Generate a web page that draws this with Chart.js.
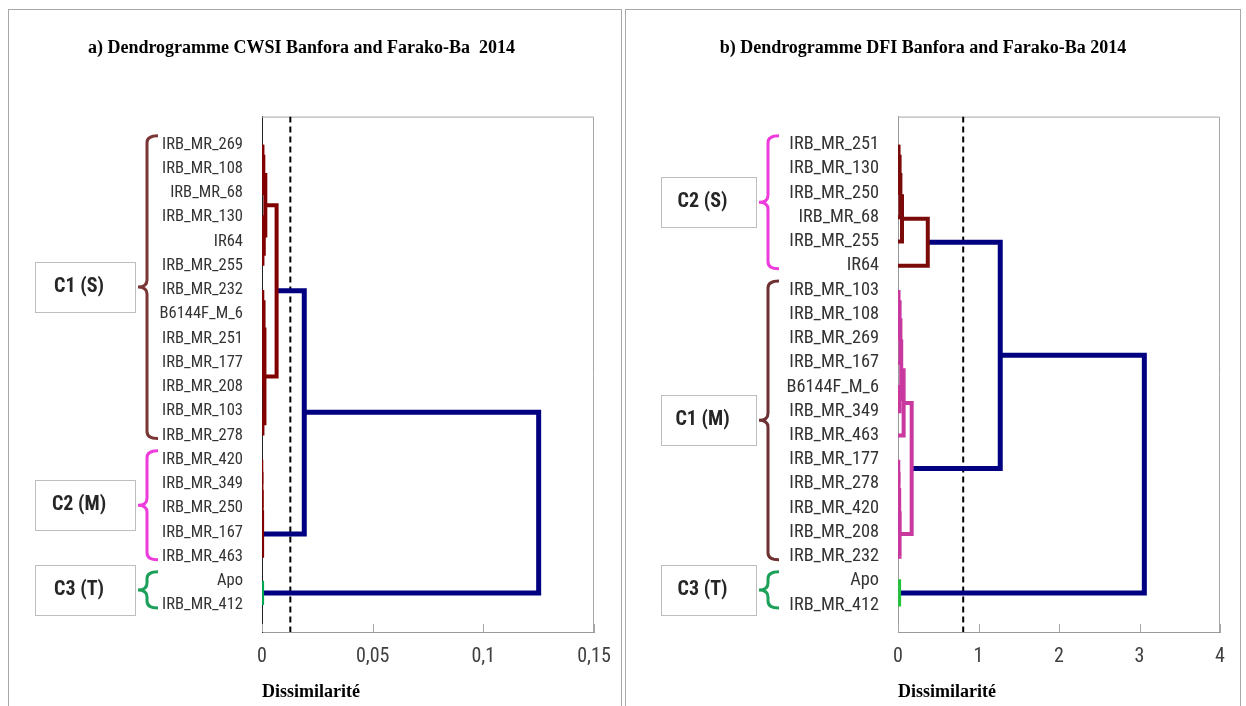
<!DOCTYPE html>
<html>
<head>
<meta charset="utf-8">
<script src="https://cdn.jsdelivr.net/npm/chart.js@4.4.0/dist/chart.umd.min.js"></script>
<style>
  body { margin: 0; background: #fff; width: 1246px; height: 706px; overflow: hidden; position: relative; }
  .panel { position: absolute; top: 9px; height: 697px; border: 1px solid #a8a8a8; border-bottom: none; box-sizing: border-box; }
  #pa { left: 8px; width: 614px; }
  #pb { left: 625px; width: 616px; }
  canvas { position: absolute; left: 0; top: 0; }
</style>
</head>
<body>
<div class="panel" id="pa"><canvas id="ca" width="612" height="696"></canvas></div>
<div class="panel" id="pb"><canvas id="cb" width="614" height="696"></canvas></div>
<script>
// ---- a) CWSI ----
const cwsiLeaves = ["IRB_MR_269", "IRB_MR_108", "IRB_MR_68", "IRB_MR_130", "IR64", "IRB_MR_255",
  "IRB_MR_232", "B6144F_M_6", "IRB_MR_251", "IRB_MR_177", "IRB_MR_208", "IRB_MR_103", "IRB_MR_278",
  "IRB_MR_420", "IRB_MR_349", "IRB_MR_250", "IRB_MR_167", "IRB_MR_463", "Apo", "IRB_MR_412"];
// [child a, child b, height]; ids >= leaves.length are earlier merges (20 = first merge)
const cwsiMerges = [
  [0, 1, 0.0003], [20, 2, 0.0006], [4, 5, 0.0003], [3, 22, 0.0008], [21, 23, 0.0015],
  [6, 7, 0.0002], [9, 10, 0.0002], [8, 26, 0.0004], [25, 27, 0.0007], [11, 12, 0.0003],
  [28, 29, 0.0011], [24, 30, 0.0066],
  [13, 14, 0.0002], [32, 15, 0.0003], [33, 16, 0.0004], [34, 17, 0.0005],
  [31, 35, 0.0191],
  [18, 19, 0.0004],
  [36, 37, 0.125]
];
const cwsiCut = 0.0128;
const cwsiTicks = [0, 0.05, 0.1, 0.15];
const cwsiGroups = [["C1 (S)", 0, 12], ["C2 (M)", 13, 17], ["C3 (T)", 18, 19]];

// ---- b) DFI ----
const dfiLeaves = ["IRB_MR_251", "IRB_MR_130", "IRB_MR_250", "IRB_MR_68", "IRB_MR_255", "IR64",
  "IRB_MR_103", "IRB_MR_108", "IRB_MR_269", "IRB_MR_167", "B6144F_M_6", "IRB_MR_349", "IRB_MR_463",
  "IRB_MR_177", "IRB_MR_278", "IRB_MR_420", "IRB_MR_208", "IRB_MR_232", "Apo", "IRB_MR_412"];
const dfiMerges = [
  [0, 1, 0.01], [20, 2, 0.02], [21, 3, 0.03], [22, 4, 0.05], [23, 5, 0.37],
  [6, 7, 0.01], [25, 8, 0.02], [26, 9, 0.03], [10, 11, 0.02], [27, 28, 0.04], [29, 12, 0.07],
  [13, 14, 0.005], [31, 15, 0.01], [32, 16, 0.015], [33, 17, 0.02],
  [30, 34, 0.17],
  [24, 35, 1.27],
  [18, 19, 0.02],
  [36, 37, 3.06]
];
const dfiCut = 0.81;
const dfiTicks = [0, 1, 2, 3, 4];
const dfiGroups = [["C2 (S)", 0, 5], ["C1 (M)", 6, 17], ["C3 (T)", 18, 19]];

const yMin = -1.157, yMax = 20.11;
const narrow = "'Roboto Condensed', 'DejaVu Sans Condensed', sans-serif";
const serif = "'Liberation Serif', 'Times New Roman', serif";
const navy = "#000080";

function dendroSets(leaves, merges, groups, linkStyle) {
  const pos = leaves.map((_, i) => i);
  const hgt = leaves.map(() => 0);
  const members = leaves.map((_, i) => [i]);
  const sets = [];
  merges.forEach(([a, b, h]) => {
    const mem = members[a].concat(members[b]);
    const g = groups.find(([, lo, hi]) => mem.every(i => i >= lo && i <= hi));
    const [color, width] = g ? linkStyle[g[0]] : [navy, 5];
    sets.push({
      data: [{ x: hgt[a], y: pos[a] }, { x: h, y: pos[a] }, { x: h, y: pos[b] }, { x: hgt[b], y: pos[b] }],
      showLine: true, pointRadius: 0, borderColor: color, borderWidth: width,
      borderJoinStyle: "miter", clip: 0
    });
    pos.push((pos[a] + pos[b]) / 2);
    hgt.push(h);
    members.push(mem);
  });
  return sets;
}

function brace(ctx, x, top, bottom, color) {
  const mid = (top + bottom) / 2, r = 7;
  ctx.strokeStyle = color;
  ctx.lineWidth = 3;
  ctx.beginPath();
  ctx.moveTo(x + 11, top);
  ctx.quadraticCurveTo(x, top, x, top + r);
  ctx.lineTo(x, mid - r);
  ctx.quadraticCurveTo(x, mid, x - 9, mid);
  ctx.quadraticCurveTo(x, mid, x, mid + r);
  ctx.lineTo(x, bottom - r);
  ctx.quadraticCurveTo(x, bottom, x + 11, bottom);
  ctx.stroke();
}

const framePlugin = {
  id: "dendroFrame",
  beforeDatasetsDraw(chart) {
    const { ctx, chartArea: a, scales: { x } } = chart;
    ctx.save();
    ctx.strokeStyle = "#a6a6a6";
    ctx.lineWidth = 1;
    ctx.beginPath();
    ctx.moveTo(a.left, a.top + 0.5);
    ctx.lineTo(a.right - 0.5, a.top + 0.5);
    ctx.lineTo(a.right - 0.5, a.bottom);
    x.ticks.forEach(t => {
      const px = Math.round(x.getPixelForValue(t.value)) + 0.5;
      ctx.moveTo(px, a.bottom);
      ctx.lineTo(px, a.bottom - 8);
    });
    ctx.stroke();
    ctx.restore();
  },
  afterDraw(chart, args, opts) {
    const { ctx, chartArea: a, scales: { y } } = chart;
    ctx.save();
    opts.groups.forEach(([name, lo, hi]) => {
      const top = y.getPixelForValue(lo) - 9;
      const bottom = y.getPixelForValue(hi) + 3;
      const mid = (top + bottom) / 2;
      const bx = a.left + opts.braceOffset;
      brace(ctx, bx, top, bottom, opts.braceColors[name]);
      const right = bx - 12, left = right - opts.boxWidth;
      ctx.fillStyle = "#fff";
      ctx.fillRect(left, mid - 25, opts.boxWidth, 50);
      ctx.strokeStyle = "#bdbdbd";
      ctx.lineWidth = 1;
      ctx.strokeRect(left + 0.5, Math.round(mid - 25) + 0.5, opts.boxWidth, 50);
      ctx.fillStyle = "#262626";
      ctx.font = "bold 20px " + narrow;
      ctx.textAlign = "center";
      ctx.textBaseline = "middle";
      ctx.fillText(name, left + opts.boxWidth / 2 - 6, mid);
    });
    ctx.restore();
  }
};

function makeChart(id, cfg) {
  const sets = dendroSets(cfg.leaves, cfg.merges, cfg.groups, cfg.linkStyle);
  sets.push({
    data: [{ x: cfg.cut, y: yMin }, { x: cfg.cut, y: yMax }],
    showLine: true, pointRadius: 0, borderColor: "#000", borderWidth: 2, borderDash: [6, 4], clip: 0
  });
  return new Chart(document.getElementById(id), {
    type: "scatter",
    data: { datasets: sets },
    options: {
      responsive: false,
      animation: false,
      events: [],
      layout: { padding: { left: 0, right: cfg.padRight, top: 0, bottom: 0 } },
      plugins: {
        legend: { display: false },
        tooltip: { enabled: false },
        title: {
          display: true, text: cfg.title, color: "#000",
          font: { family: serif, weight: "bold", size: 18 },
          padding: { top: 28, bottom: 57 }
        },
        dendroFrame: cfg.frame
      },
      scales: {
        x: {
          type: "linear", min: 0, max: cfg.ticks[cfg.ticks.length - 1],
          afterBuildTicks: s => { s.ticks = cfg.ticks.map(v => ({ value: v })); },
          afterFit: s => { s.height = 74; s.paddingLeft = 0; s.paddingRight = 0; },
          grid: { display: false, drawTicks: false },
          border: { color: "#9a9a9a", width: 1 },
          ticks: {
            padding: 13, color: "#404040", font: { family: narrow, size: 20 },
            callback: v => String(v).replace(".", ",")
          },
          title: {
            display: true, text: "Dissimilarité", align: "start", color: "#000",
            font: { family: serif, weight: "bold", size: 18 },
            padding: { top: 0, bottom: 3 }
          }
        },
        y: {
          type: "linear", reverse: true, min: yMin, max: yMax,
          afterBuildTicks: s => { s.ticks = cfg.leaves.map((_, i) => ({ value: i })); },
          afterFit: s => { s.width = cfg.left; s.paddingTop = 0; s.paddingBottom = 0; },
          grid: { display: false, drawTicks: false },
          border: { color: cfg.axisColor, width: 1 },
          ticks: {
            autoSkip: false, padding: 19, color: "#333",
            font: { family: narrow, size: cfg.labelSize },
            callback: v => cfg.leaves[v]
          }
        }
      }
    },
    plugins: [framePlugin]
  });
}

makeChart("ca", {
  title: "a) Dendrogramme CWSI Banfora and Farako-Ba  2014",
  leaves: cwsiLeaves, merges: cwsiMerges, groups: cwsiGroups, cut: cwsiCut, ticks: cwsiTicks,
  linkStyle: { "C1 (S)": ["#800000", 4], "C2 (M)": ["#800000", 2], "C3 (T)": ["#00a651", 3] },
  left: 253, padRight: 27, labelSize: 16.5, axisColor: "#222",
  frame: {
    groups: cwsiGroups, braceOffset: -115, boxWidth: 100,
    braceColors: { "C1 (S)": "#7a3535", "C2 (M)": "#ee3bdc", "C3 (T)": "#1aa058" }
  }
});

makeChart("cb", {
  title: "b) Dendrogramme DFI Banfora and Farako-Ba 2014",
  leaves: dfiLeaves, merges: dfiMerges, groups: dfiGroups, cut: dfiCut, ticks: dfiTicks,
  linkStyle: { "C2 (S)": ["#7b0a0a", 4], "C1 (M)": ["#c8389f", 4], "C3 (T)": ["#22c33a", 3] },
  left: 272, padRight: 20, labelSize: 18.3, axisColor: "#9a9a9a",
  frame: {
    groups: dfiGroups, braceOffset: -130, boxWidth: 95,
    braceColors: { "C2 (S)": "#ee3bdc", "C1 (M)": "#6e3030", "C3 (T)": "#1aa058" }
  }
});
</script>
</body>
</html>
